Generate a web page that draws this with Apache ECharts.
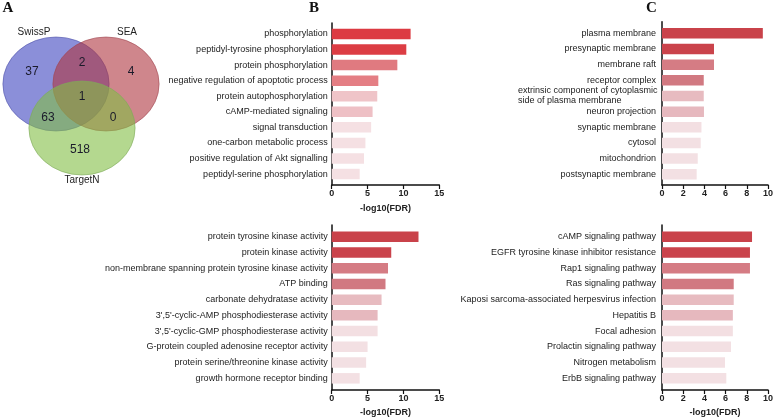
<!DOCTYPE html>
<html>
<head>
<meta charset="utf-8">
<script src="https://cdn.jsdelivr.net/npm/echarts@6/dist/echarts.min.js"></script>
<style>
html,body{margin:0;padding:0;background:#fff;}
#chart{width:776px;height:419px;}
</style>
</head>
<body>
<div id="chart"></div>
<script>
// ---------- DATA ----------
var vennSets = ['SwissP', 'SEA', 'TargetN'];
// regions: SwissP only, SwissP∩SEA, SEA only, all three, SwissP∩TargetN, SEA∩TargetN, TargetN only
var vennCounts = [37, 2, 4, 1, 63, 0, 518];

var bpTerms = ['phosphorylation', 'peptidyl-tyrosine phosphorylation', 'protein phosphorylation',
  'negative regulation of apoptotic process', 'protein autophosphorylation', 'cAMP-mediated signaling',
  'signal transduction', 'one-carbon metabolic process', 'positive regulation of Akt signalling',
  'peptidyl-serine phosphorylation'];
var bpValues = [11.0, 10.4, 9.15, 6.5, 6.35, 5.7, 5.5, 4.7, 4.5, 3.9];

var mfTerms = ['protein tyrosine kinase activity', 'protein kinase activity',
  'non-membrane spanning protein tyrosine kinase activity', 'ATP binding', 'carbonate dehydratase activity',
  "3',5'-cyclic-AMP phosphodiesterase activity", "3',5'-cyclic-GMP phosphodiesterase activity",
  'G-protein coupled adenosine receptor activity', 'protein serine/threonine kinase activity',
  'growth hormone receptor binding'];
var mfValues = [12.1, 8.3, 7.85, 7.5, 6.95, 6.4, 6.4, 5.0, 4.8, 3.9];

var ccTerms = ['plasma membrane', 'presynaptic membrane', 'membrane raft', 'receptor complex',
  'extrinsic component of cytoplasmic\nside of plasma membrane', 'neuron projection', 'synaptic membrane',
  'cytosol', 'mitochondrion', 'postsynaptic membrane'];
var ccValues = [9.25, 4.77, 4.77, 3.83, 3.83, 3.85, 3.62, 3.55, 3.28, 3.18];

var keggTerms = ['cAMP signaling pathway', 'EGFR tyrosine kinase inhibitor resistance', 'Rap1 signaling pathway',
  'Ras signaling pathway', 'Kaposi sarcoma-associated herpesvirus infection', 'Hepatitis B', 'Focal adhesion',
  'Prolactin signaling pathway', 'Nitrogen metabolism', 'ErbB signaling pathway'];
var keggValues = [8.26, 8.07, 8.07, 6.58, 6.58, 6.5, 6.5, 6.33, 5.78, 5.9];

var xTitle = '-log10(FDR)';
var panelLetters = ['A', 'B', 'C'];

// ---------- STYLE ----------
var FONT = '"Liberation Sans", Arial, sans-serif';
var colorsB1 = ['#dc3a42', '#dc3d44', '#e07a80', '#e47e84', '#efc4c8', '#eec0c5', '#f5e0e3', '#f5e0e3', '#f5e0e3', '#f5e0e3'];
var colorsDark = ['#c9424a', '#ca434b', '#d57c84', '#d17981', '#e7bbc0', '#e6b8be', '#f3dfe2', '#f3e0e3', '#f3e0e3', '#f3e0e3'];

var panels = [
  {terms: bpTerms, vals: bpValues, colors: colorsB1, left: 331.7, width: 107.6, ftop: 23, fh: 162, btop: 26.2, bh: 155.6, max: 15, interval: 5, title: true, gap: 19, margin: 4},
  {terms: mfTerms, vals: mfValues, colors: colorsDark, left: 331.7, width: 107.6, ftop: 225, fh: 165, btop: 228.8, bh: 157.4, max: 15, interval: 5, title: true, gap: 18, margin: 4},
  {terms: ccTerms, vals: ccValues, colors: colorsDark, left: 662, width: 109, ftop: 21.7, fh: 163.3, btop: 25.5, bh: 156.6, max: 10, interval: 2, title: false, gap: 18, margin: 6},
  {terms: keggTerms, vals: keggValues, colors: colorsDark, left: 662, width: 109, ftop: 225, fh: 165, btop: 228.8, bh: 157.4, max: 10, interval: 2, title: true, gap: 18, margin: 6}
];

var grids = [], xAxes = [], yAxes = [], series = [];
panels.forEach(function (p, i) {
  // frame grid: axis lines, x ticks, title
  grids.push({left: p.left, top: p.ftop, width: p.width, height: p.fh, containLabel: false});
  xAxes.push({
    type: 'value', gridIndex: 2 * i, min: 0, max: p.max, interval: p.interval,
    axisLine: {show: true, onZero: false, lineStyle: {color: '#111', width: 1.5}},
    axisTick: {show: true, length: 4, lineStyle: {color: '#111', width: 1.2}},
    splitLine: {show: false},
    axisLabel: {show: true, margin: 4, fontFamily: FONT, fontSize: 9, fontWeight: 'bold', color: '#222'},
    name: p.title ? xTitle : '', nameLocation: 'middle', nameGap: p.gap,
    nameTextStyle: {fontFamily: FONT, fontSize: 9, fontWeight: 'bold', color: '#222'}
  });
  yAxes.push({
    type: 'value', gridIndex: 2 * i, min: 0, max: 1,
    axisLine: {show: true, lineStyle: {color: '#111', width: 1.5}},
    axisTick: {show: false}, axisLabel: {show: false}, splitLine: {show: false}
  });
  // bars grid
  grids.push({left: p.left, top: p.btop, width: p.width, height: p.bh, containLabel: false});
  xAxes.push({type: 'value', gridIndex: 2 * i + 1, min: 0, max: p.max, show: false});
  yAxes.push({
    type: 'category', gridIndex: 2 * i + 1, inverse: true, data: p.terms,
    axisLine: {show: false}, axisTick: {show: false}, splitLine: {show: false},
    axisLabel: {
      show: true, margin: p.margin, fontFamily: FONT, fontSize: 9, color: '#222', lineHeight: 10,
      formatter: function (v) {
        if (v.indexOf('\n') >= 0) {
          return v.split('\n').map(function (s) { return '{l|' + s + '}'; }).join('\n');
        }
        return v;
      },
      rich: {l: {width: 138, align: 'left', fontFamily: FONT, fontSize: 9, color: '#222', lineHeight: 10}}
    }
  });
  series.push({
    type: 'bar', xAxisIndex: 2 * i + 1, yAxisIndex: 2 * i + 1, barWidth: 10.5,
    data: p.vals.map(function (v, k) { return {value: v, itemStyle: {color: p.colors[k]}}; }),
    silent: true, animation: false
  });
});

// Venn diagram (panel A)
var vennCircles = [
  {cx: 56, cy: 84, fill: 'rgba(62,68,192,0.6)', stroke: 'rgba(80,84,170,0.7)'},
  {cx: 106, cy: 84, fill: 'rgba(175,53,63,0.6)', stroke: 'rgba(160,70,80,0.7)'},
  {cx: 82, cy: 128, fill: 'rgba(130,190,68,0.6)', stroke: 'rgba(125,170,90,0.7)'}
];
var setLabelPos = [[34, 32], [127, 32], [82, 180]];
var countPos = [[32, 72], [82, 63], [131, 72], [82, 97], [48, 118], [113, 118], [80, 150]];

var graphic = [];
vennCircles.forEach(function (c) {
  graphic.push({
    type: 'circle', x: c.cx, y: c.cy, scaleX: 1.13, scaleY: 1, shape: {cx: 0, cy: 0, r: 47},
    style: {fill: c.fill, stroke: c.stroke, lineWidth: 0.8}, silent: true, z: 1
  });
});
vennSets.forEach(function (s, i) {
  graphic.push({type: 'text', x: setLabelPos[i][0], y: setLabelPos[i][1], z: 5,
    style: {text: s, fontFamily: FONT, fontSize: 10, fill: '#222', textAlign: 'center', textVerticalAlign: 'middle'}});
});
vennCounts.forEach(function (n, i) {
  graphic.push({type: 'text', x: countPos[i][0], y: countPos[i][1], z: 5,
    style: {text: String(n), fontFamily: FONT, fontSize: 12, fill: '#1a1a2a', textAlign: 'center', textVerticalAlign: 'middle'}});
});
var letterPos = [[8, 8], [314, 8], [651.5, 8]];
panelLetters.forEach(function (L, i) {
  graphic.push({type: 'text', x: letterPos[i][0], y: letterPos[i][1], z: 5,
    style: {text: L, fontFamily: '"Liberation Serif", "Times New Roman", serif', fontSize: 15, fontWeight: 'bold',
      fill: '#111', textAlign: 'center', textVerticalAlign: 'middle'}});
});

var chart = echarts.init(document.getElementById('chart'), null, {renderer: 'canvas'});
chart.setOption({
  backgroundColor: '#ffffff',
  animation: false,
  grid: grids, xAxis: xAxes, yAxis: yAxes, series: series, graphic: graphic
});
</script>
</body>
</html>
